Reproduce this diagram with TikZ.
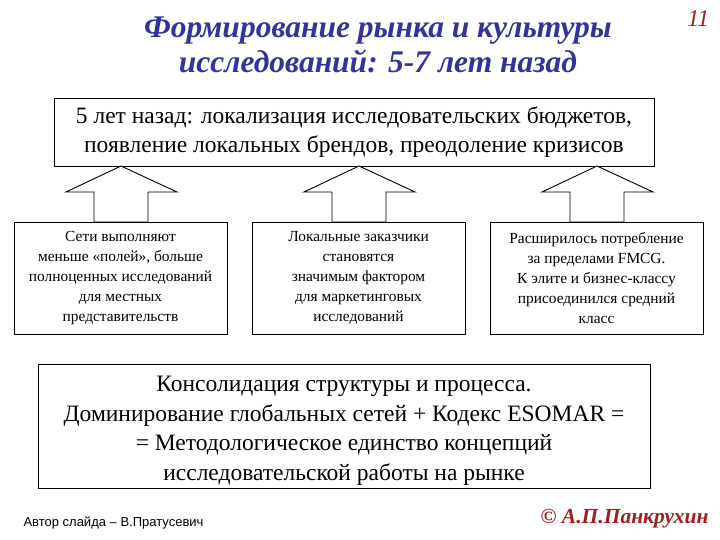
\documentclass[tikz,border=0pt]{standalone}
\usepackage{fontspec}
\setmainfont{Liberation Serif}
\newfontfamily\arialf{Liberation Sans}
\definecolor{ttl}{RGB}{51,51,153}
\definecolor{rd}{RGB}{160,30,30}
\begin{document}
\begin{tikzpicture}[x=1pt,y=-1pt,
  box/.style={draw,line width=0.9pt,fill=white,align=center,inner sep=0pt},
  uparr/.style={draw,line width=0.9pt,fill=white},
  small/.style={font=\fontsize{15.4}{20}\selectfont},
  big/.style={font=\fontsize{23.5}{29.5}\selectfont}]
\useasboundingbox (0,0) rectangle (720,540);
\node[text=ttl,align=center,font=\fontsize{31.5}{35}\selectfont\bfseries\itshape] (title) at (378,45) {Формирование рынка и культуры\\исследований: 5-7 лет назад};
\node[text=rd,font=\fontsize{24}{26}\selectfont\itshape,anchor=east] (num) at (713,19) {11};
\node[box,big,minimum width=600,minimum height=68] (top) at (354,132) {5 лет назад: локализация исследовательских бюджетов,\\появление локальных брендов, преодоление кризисов};
\node[box,small,minimum width=213,minimum height=112] (b1) at (120.5,278) {Сети выполняют\\меньше «полей», больше\\полноценных исследований\\для местных\\представительств};
\node[box,small,minimum width=213,minimum height=112] (b2) at (358.5,278) {Локальные заказчики\\становятся\\значимым фактором\\для маркетинговых\\исследований};
\node[box,small,minimum width=213,minimum height=112] (b3) at (596.5,278) {Расширилось потребление\\за пределами FMCG.\\К элите и бизнес-классу\\присоединился средний\\класс};
\foreach \n/\c in {b1/121,b2/359,b3/597}{
  \draw[uparr] (\c,166) -- (\c+56,192) -- (\c+27,192) -- (\c+27,222) -- (\c-27,222) -- (\c-27,192) -- (\c-55,192) -- cycle;
}
\node[box,minimum width=612,minimum height=124] (bot) at (344,426) {};
\node[big,align=center,inner sep=0pt] (botT) at ([yshift=-5pt]bot.center) {Консолидация структуры и процесса.\\Доминирование глобальных сетей + Кодекс ESOMAR =\\= Методологическое единство концепций\\исследовательской работы на рынке};
\node[font=\arialf\fontsize{13}{15}\selectfont,anchor=west] (auth) at (20,523) {Автор слайда – В.Пратусевич};
\node[text=rd,font=\fontsize{21.5}{24}\selectfont\bfseries\itshape,anchor=east] (copy) at (712,519) {© А.П.Панкрухин};
\end{tikzpicture}
\end{document}
